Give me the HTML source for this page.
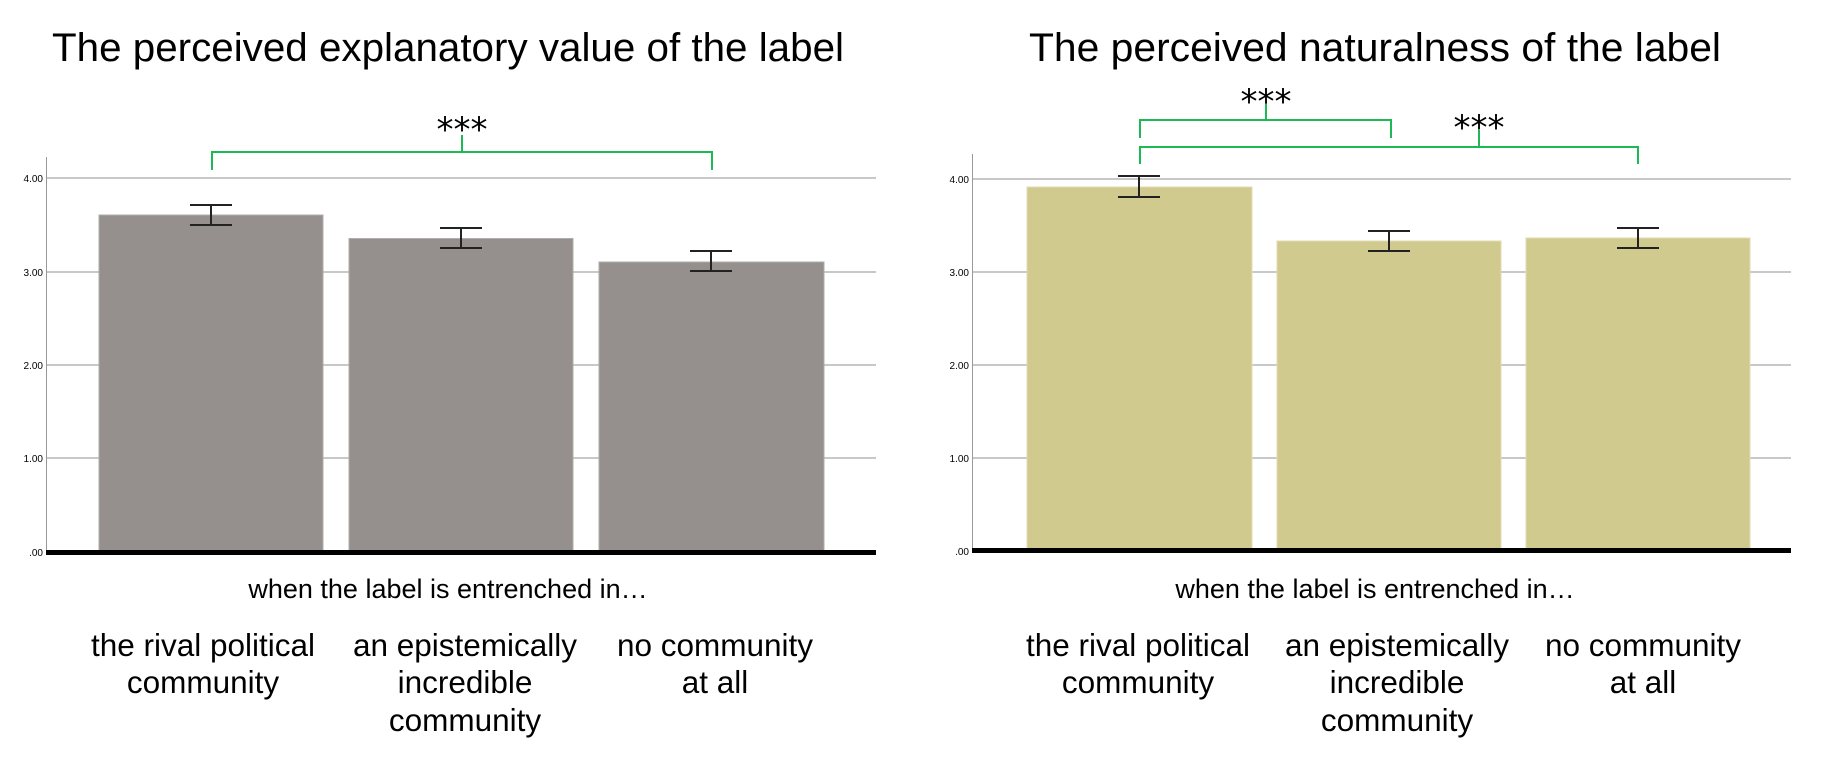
<!DOCTYPE html>
<html><head><meta charset="utf-8"><style>
html,body{margin:0;padding:0;background:#fff;}
svg{display:block;font-family:"Liberation Sans",Arial,sans-serif;}
.st{font-family:"DejaVu Sans",sans-serif;font-size:34px;}
</style></head><body>
<svg width="1824" height="758" viewBox="0 0 1824 758" xmlns="http://www.w3.org/2000/svg">
<!-- LEFT CHART -->
<text x="448" y="61" font-size="40" text-anchor="middle" textLength="792" lengthAdjust="spacingAndGlyphs">The perceived explanatory value of the label</text>
<g stroke="#c8c8c8" stroke-width="2">
<line x1="47" y1="178" x2="876" y2="178"/><line x1="47" y1="272" x2="876" y2="272"/>
<line x1="47" y1="365" x2="876" y2="365"/><line x1="47" y1="458" x2="876" y2="458"/>
</g>
<line x1="46.5" y1="157" x2="46.5" y2="553" stroke="#999" stroke-width="1"/>
<g font-size="10" text-anchor="end" fill="#000">
<text x="43" y="182">4.00</text><text x="43" y="276">3.00</text><text x="43" y="369">2.00</text><text x="43" y="462">1.00</text><text x="43" y="556">.00</text>
</g>
<g fill="#95908e" stroke="#b0acaa" stroke-width="1">
<rect x="99" y="215" width="224" height="337"/><rect x="349" y="238.5" width="224" height="313.5"/><rect x="599" y="262" width="225" height="290"/>
</g>
<rect x="46" y="550" width="830" height="5" fill="#000"/>
<g stroke="#222" stroke-width="2" fill="none">
<path d="M211 205V225M190 205H232M190 225H232"/>
<path d="M461 228V248M440 228H482M440 248H482"/>
<path d="M711 251V271M690 251H732M690 271H732"/>
</g>
<path d="M212 170V152H712V170M462 152V135" stroke="#1db954" stroke-width="2" fill="none"/>
<text class="st" x="462" y="141" text-anchor="middle">***</text>
<text x="448" y="598" font-size="27" text-anchor="middle">when the label is entrenched in…</text>
<g font-size="31.5" text-anchor="middle">
<text x="203" y="656">the rival political</text><text x="203" y="693">community</text>
<text x="465" y="656">an epistemically</text><text x="465" y="693">incredible</text><text x="465" y="731">community</text>
<text x="715" y="656">no community</text><text x="715" y="693">at all</text>
</g>
<!-- RIGHT CHART -->
<text x="1375" y="61" font-size="40" text-anchor="middle" textLength="692" lengthAdjust="spacingAndGlyphs">The perceived naturalness of the label</text>
<g stroke="#c8c8c8" stroke-width="2">
<line x1="973" y1="179" x2="1791" y2="179"/><line x1="973" y1="272" x2="1791" y2="272"/>
<line x1="973" y1="365" x2="1791" y2="365"/><line x1="973" y1="458" x2="1791" y2="458"/>
</g>
<line x1="972.5" y1="154" x2="972.5" y2="552" stroke="#999" stroke-width="1"/>
<g font-size="10" text-anchor="end" fill="#000">
<text x="969" y="183">4.00</text><text x="969" y="276">3.00</text><text x="969" y="369">2.00</text><text x="969" y="462">1.00</text><text x="969" y="555">.00</text>
</g>
<g fill="#d0ca8f" stroke="#e2dcb0" stroke-width="1">
<rect x="1027" y="187" width="225" height="363"/><rect x="1277" y="241" width="224" height="309"/><rect x="1526" y="238" width="224" height="312"/>
</g>
<rect x="972" y="548" width="819" height="5" fill="#000"/>
<g stroke="#222" stroke-width="2" fill="none">
<path d="M1139 176V197M1118 176H1160M1118 197H1160"/>
<path d="M1389 231V251M1368 231H1410M1368 251H1410"/>
<path d="M1638 228V248M1617 228H1659M1617 248H1659"/>
</g>
<path d="M1140 138V120H1391V138M1266 120V103" stroke="#1db954" stroke-width="2" fill="none"/>
<path d="M1140 164V147H1638V164M1479 147V130" stroke="#1db954" stroke-width="2" fill="none"/>
<text class="st" x="1266" y="113" text-anchor="middle">***</text>
<text class="st" x="1479" y="139" text-anchor="middle">***</text>
<text x="1375" y="598" font-size="27" text-anchor="middle">when the label is entrenched in…</text>
<g font-size="31.5" text-anchor="middle">
<text x="1138" y="656">the rival political</text><text x="1138" y="693">community</text>
<text x="1397" y="656">an epistemically</text><text x="1397" y="693">incredible</text><text x="1397" y="731">community</text>
<text x="1643" y="656">no community</text><text x="1643" y="693">at all</text>
</g>
</svg>
</body></html>
